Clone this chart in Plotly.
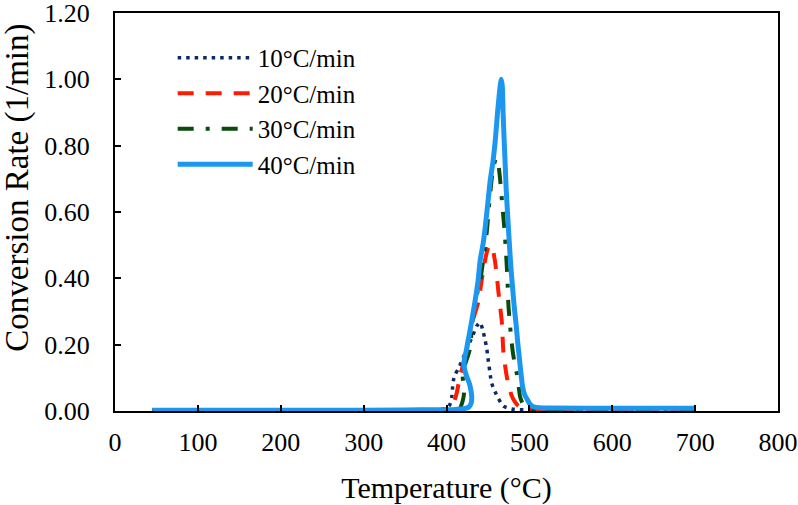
import plotly.graph_objects as go

# ---------------- data ----------------
x_ticks = [0, 100, 200, 300, 400, 500, 600, 700, 800]
y_ticks = [0.0, 0.2, 0.4, 0.6, 0.8, 1.0, 1.2]

names = ["10°C/min", "20°C/min", "30°C/min", "40°C/min"]

t10 = [45, 150, 250, 350, 390, 400, 403, 405, 406.4, 407.2, 408.4, 410.4, 414.4,
       420, 426, 432, 437, 440.5, 443.7, 446.6, 448.6, 449.8, 451.4, 452.8, 454.6,
       458.6, 462.6, 468.6, 478.8, 500, 600, 700]
r10 = [0.001, 0.001, 0.001, 0.002, 0.004, 0.008, 0.015, 0.025, 0.043, 0.068, 0.093,
       0.11, 0.128, 0.16, 0.195, 0.23, 0.258, 0.267, 0.245, 0.213, 0.188, 0.163,
       0.135, 0.108, 0.083, 0.058, 0.038, 0.015, 0.006, 0.003, 0.002, 0.002]

t20 = [45, 150, 250, 350, 395, 402, 406.4, 409.5, 412.4, 414.4, 417, 420.4, 424.5,
       428.5, 431.5, 435, 438.5, 441, 444, 447, 450, 453, 455.5, 458.6, 461, 462.6,
       464.5, 466.7, 468.6, 470.5, 473, 475.5, 478, 482, 487, 495, 503, 520, 600, 700]
r20 = [0.002, 0.002, 0.002, 0.002, 0.003, 0.006, 0.012, 0.03, 0.055, 0.08, 0.11,
       0.145, 0.19, 0.24, 0.27, 0.30, 0.33, 0.37, 0.42, 0.46, 0.49, 0.50, 0.49, 0.45,
       0.40, 0.36, 0.32, 0.27, 0.18, 0.14, 0.10, 0.075, 0.05, 0.03, 0.015, 0.01,
       0.007, 0.004, 0.003, 0.003]

t30 = [45, 150, 250, 350, 400, 412, 416.4, 419.5, 421.2, 420.5, 419.5, 421, 425,
       428.5, 430.5, 434, 437.5, 440.5, 444, 448.6, 451.4, 454.6, 457.5, 460, 462.5,
       464.6, 467.5, 469.5, 470.7, 472, 473.5, 474.7, 476.6, 478.3, 480, 482.5, 484.8,
       487, 488.8, 492, 497, 505, 520, 700]
r30 = [0.001, 0.001, 0.001, 0.002, 0.002, 0.004, 0.01, 0.03, 0.055, 0.08, 0.105,
       0.13, 0.16, 0.19, 0.25, 0.32, 0.36, 0.39, 0.45, 0.54, 0.62, 0.70, 0.745, 0.762,
       0.745, 0.70, 0.617, 0.56, 0.52, 0.47, 0.40, 0.32, 0.26, 0.215, 0.178, 0.14,
       0.113, 0.075, 0.043, 0.022, 0.01, 0.004, 0.003, 0.002]

t40 = [45, 150, 250, 350, 390, 405, 412, 418, 423, 427, 429.5, 430.5, 429.5, 427.6,
       425, 422.4, 421.2, 422, 423.7, 425.5, 427.6, 431, 434.5, 438, 440.5, 444.5,
       447, 450, 453, 456, 459, 461.6, 463.5, 465, 466, 467.3, 468.3, 469.5, 470.7,
       472, 473.8, 475.7, 477.8, 479.8, 481.8, 484, 486, 487.8, 489.8, 491.8, 494.5,
       497.8, 501, 505, 512, 530, 600, 700]
r40 = [0.002, 0.002, 0.002, 0.003, 0.004, 0.004, 0.005, 0.006, 0.008, 0.012, 0.022,
       0.04, 0.062, 0.083, 0.10, 0.12, 0.144, 0.162, 0.18, 0.205, 0.232, 0.28, 0.332,
       0.39, 0.452, 0.51, 0.56, 0.63, 0.70, 0.75, 0.82, 0.90, 0.95, 0.985, 1.0, 0.98,
       0.90, 0.82, 0.75, 0.67, 0.59, 0.51, 0.43, 0.37, 0.312, 0.26, 0.205, 0.163,
       0.115, 0.073, 0.048, 0.033, 0.02, 0.013, 0.010, 0.009, 0.008, 0.008]

# ---------------- figure ----------------
FONT = "Liberation Serif"
styles = [
    dict(color="#0E2A66", width=3.5, dash="3.5px,5px"),
    dict(color="#FF1A00", width=4, dash="16px,12px"),
    dict(color="#0A4A0A", width=4, dash="16px,12px,4px,12px"),
    dict(color="#1C97F0", width=5, dash="solid"),
]
series = [(t10, r10), (t20, r20), (t30, r30), (t40, r40)]

fig = go.Figure()
for (tx, ry), nm, st in zip(series, names, styles):
    fig.add_trace(go.Scatter(x=tx, y=ry, mode="lines", name=nm,
                             line=dict(shape="spline", smoothing=0.6, **st)))

fig.update_layout(
    width=798, height=505,
    margin=dict(l=115, r=20, t=13, b=94, autoexpand=False),
    paper_bgcolor="white", plot_bgcolor="white",
    font=dict(family=FONT, color="black", size=26),
    showlegend=True,
    legend=dict(x=0.087, y=0.945, xanchor="left", yanchor="top",
                bgcolor="rgba(0,0,0,0)", font=dict(size=25, family=FONT),
                itemwidth=75, tracegroupgap=0),
)
fig.update_xaxes(range=[0, 800], tickvals=x_ticks, ticks="inside", ticklen=6,
                 tickwidth=1.5, tickcolor="black", showline=True, linecolor="black",
                 linewidth=2, mirror=True, showgrid=False, zeroline=False,
                 automargin=False, ticklabelstandoff=7, ticklabeloverflow="allow",
                 tickfont=dict(size=26, family=FONT),
                 title=dict(text="Temperature (°C)", font=dict(size=30, family=FONT),
                            standoff=24))
fig.update_yaxes(range=[0, 1.20001], tickvals=y_ticks, tickformat=".2f",
                 ticks="inside", ticklen=6, tickwidth=1.5, tickcolor="black",
                 showline=True, linecolor="black", linewidth=2, mirror=True,
                 showgrid=False, zeroline=False, ticklabelstandoff=18,
                 automargin=False, ticklabeloverflow="allow",
                 tickfont=dict(size=26, family=FONT))
fig.add_annotation(text="Conversion Rate (1/min)", textangle=-90, showarrow=False,
                   xref="paper", yref="paper", x=-0.147, y=0.56,
                   xanchor="center", yanchor="middle",
                   font=dict(size=33, family=FONT))

fig.write_html("out.html")
